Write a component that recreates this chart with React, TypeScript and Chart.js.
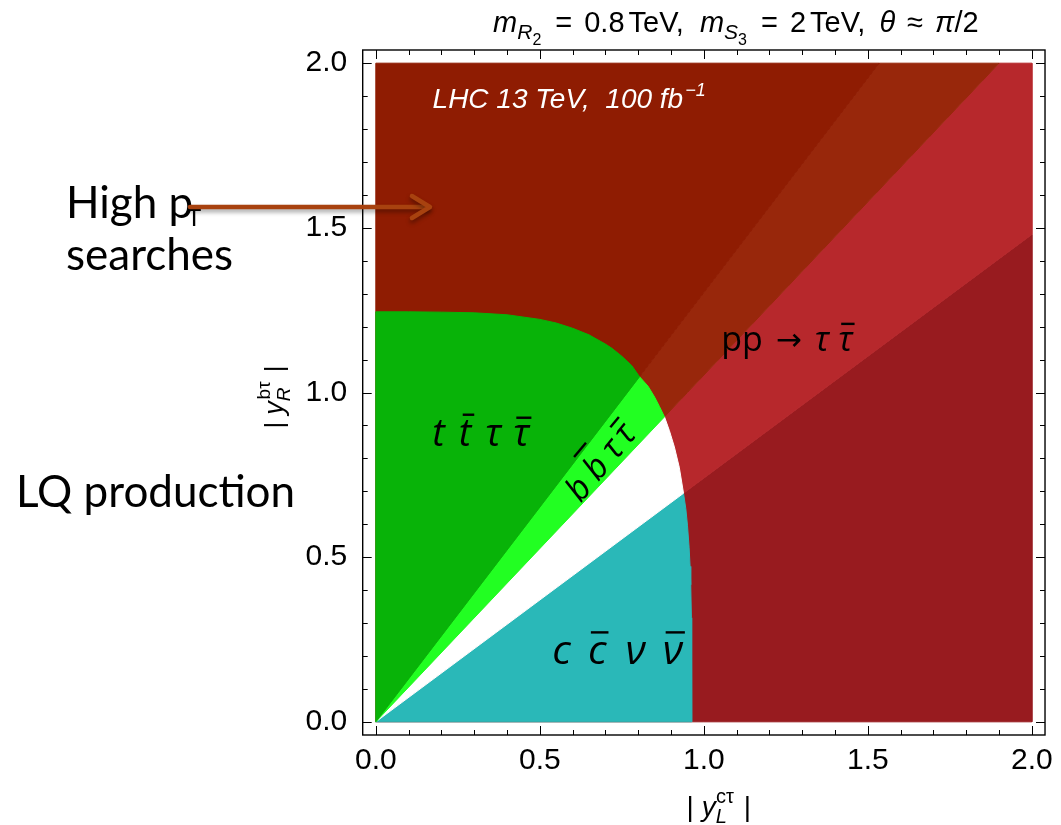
import React, { useEffect, useRef } from 'react';
import { Chart, registerables } from 'chart.js';

Chart.register(...registerables);

// ---------------- data ----------------
const axisMin = -0.04;
const axisMax = 2.04;
const majorTickValues = [0, 0.5, 1.0, 1.5, 2.0];
const majorTickLabels = ['0.0', '0.5', '1.0', '1.5', '2.0'];
const minorTickValues = [0.1, 0.2, 0.3, 0.4, 0.6, 0.7, 0.8, 0.9, 1.1, 1.2, 1.3, 1.4, 1.6, 1.7, 1.8, 1.9];

// LQ pair-production region, split into decay-channel wedges
const ttTauTauX = [0, 0, 0.1, 0.2, 0.3, 0.4, 0.5, 0.55, 0.6, 0.65, 0.7, 0.72, 0.75, 0.78, 0.804, 0];
const ttTauTauY = [0, 1.245, 1.245, 1.244, 1.242, 1.236, 1.222, 1.211, 1.195, 1.175, 1.147, 1.134, 1.11, 1.082, 1.048, 0];
const bbTauTauX = [0, 0.804, 0.83, 0.85, 0.865, 0.88, 0];
const bbTauTauY = [0, 1.048, 1.019, 0.986, 0.957, 0.926, 0];
const gapX = [0, 0.88, 0.895, 0.91, 0.925, 0.938, 0];
const gapY = [0, 0.926, 0.884, 0.835, 0.773, 0.694, 0];
const ccNuNuX = [0, 0.938, 0.945, 0.95, 0.955, 0.958, 0.96, 0.962, 0.9628, 0.963, 0.963, 0];
const ccNuNuY = [0, 0.694, 0.647, 0.597, 0.53, 0.472, 0.416, 0.316, 0.211, 0.1, 0, 0];

// High-pT (pp -> tau tau) excluded wedges
const highPtTopX = [0, 0, 1.535, 0];
const highPtTopY = [0, 2, 2, 0];
const highPtBandX = [0, 1.535, 1.9, 0];
const highPtBandY = [0, 2, 2, 0];
const highPtMidX = [0, 1.9, 2, 2, 0];
const highPtMidY = [0, 2, 2, 1.48, 0];
const highPtLowX = [0, 2, 2, 0];
const highPtLowY = [0, 1.48, 0, 0];

// label anchors (data coordinates)
const lhcLabelPos = [0.173, 1.864];
const ppLabelPos = [1.053, 1.127];
const ttLabelPos = [0.32, 0.839];
const bbLabelPos = [0.683, 0.79];
const ccLabelPos = [0.737, 0.175];

const COLORS = {
  top: '#8f1c02',
  band: '#98270b',
  mid: '#b7282c',
  low: '#981b1f',
  tt: '#08b308',
  bb: '#22ff22',
  gap: '#ffffff',
  cc: '#2ab8b8',
};

function poly(xs: number[], ys: number[]) {
  return xs.map((x, i) => ({ x, y: ys[i] }));
}

function region(label: string, xs: number[], ys: number[], color: string, order: number) {
  return {
    label,
    data: poly(xs, ys),
    showLine: true,
    fill: 'shape',
    backgroundColor: color,
    borderColor: color,
    borderWidth: 1,
    pointRadius: 0,
    pointHoverRadius: 0,
    tension: 0,
    order,
  };
}

type Seg = { t: string; f: string; dy?: number; bar?: number; barDx?: number; gap?: number };

function richWidth(ctx: CanvasRenderingContext2D, segs: Seg[]) {
  let w = 0;
  for (const s of segs) {
    ctx.font = s.f;
    w += ctx.measureText(s.t).width + (s.gap || 0);
  }
  return w;
}

function drawRich(ctx: CanvasRenderingContext2D, segs: Seg[], x: number, y: number, align: string) {
  const w = richWidth(ctx, segs);
  let cx = align === 'center' ? x - w / 2 : align === 'right' ? x - w : x;
  ctx.textAlign = 'left';
  ctx.textBaseline = 'alphabetic';
  for (const s of segs) {
    ctx.font = s.f;
    cx += s.gap || 0;
    const sw = ctx.measureText(s.t).width;
    ctx.fillText(s.t, cx, y + (s.dy || 0));
    if (s.bar) {
      ctx.fillRect(cx + (s.barDx || 0) + 1, y + (s.dy || 0) - s.bar, sw - 1, 2.4);
    }
    cx += sw;
  }
}

const LS = '"Liberation Sans", Arial, sans-serif';
const OS = '"Open Sans", "Noto Sans", sans-serif';
const DJ = '"DejaVu Sans", sans-serif';
const LATO = 'Lato, "Open Sans", sans-serif';

const framePlugin = {
  id: 'frameTicks',
  afterDraw(chart: any) {
    const ctx = chart.ctx as CanvasRenderingContext2D;
    const { left, right, top, bottom } = chart.chartArea;
    const xs = chart.scales.x;
    const ys = chart.scales.y;
    ctx.save();
    ctx.strokeStyle = '#000';
    ctx.lineWidth = 1;
    const drawTick = (v: number, len: number) => {
      const px = Math.round(xs.getPixelForValue(v)) + 0.5;
      const py = Math.round(ys.getPixelForValue(v)) + 0.5;
      ctx.beginPath();
      ctx.moveTo(px, bottom); ctx.lineTo(px, bottom - len);
      ctx.moveTo(px, top); ctx.lineTo(px, top + len);
      ctx.moveTo(left, py); ctx.lineTo(left + len, py);
      ctx.moveTo(right, py); ctx.lineTo(right - len, py);
      ctx.stroke();
    };
    majorTickValues.forEach((v) => drawTick(v, 9));
    minorTickValues.forEach((v) => drawTick(v, 5));
    ctx.lineWidth = 1.4;
    ctx.strokeRect(left, top, right - left, bottom - top);

    // Title
    ctx.fillStyle = '#000';
    drawRich(ctx, [
      { t: 'm', f: `italic 29px ${LS}` },
      { t: 'R', f: `italic 21px ${LS}`, dy: 7 },
      { t: '2', f: `16px ${LS}`, dy: 13 },
      { t: '=', f: `29px ${LS}`, gap: 14 },
      { t: '0.8', f: `29px ${LS}`, gap: 12 },
      { t: 'TeV,', f: `29px ${LS}`, gap: 4 },
      { t: 'm', f: `italic 29px ${LS}`, gap: 16 },
      { t: 'S', f: `italic 21px ${LS}`, dy: 7 },
      { t: '3', f: `16px ${LS}`, dy: 13 },
      { t: '=', f: `29px ${LS}`, gap: 14 },
      { t: '2', f: `29px ${LS}`, gap: 12 },
      { t: 'TeV,', f: `29px ${LS}`, gap: 4 },
      { t: 'θ', f: `italic 29px ${LS}`, gap: 14 },
      { t: '≈', f: `29px ${LS}`, gap: 12 },
      { t: 'π', f: `italic 29px ${LS}`, gap: 12 },
      { t: '/2', f: `29px ${LS}` },
    ], (left + right) / 2 + 32, 32, 'center');

    // x axis title
    drawRich(ctx, [
      { t: '|', f: `28px ${LS}` },
      { t: 'y', f: `italic 28px ${LS}`, gap: 8 },
      { t: 'L', f: `italic 20px ${LS}`, dy: 7 },
      { t: 'cτ', f: `20px ${LS}`, dy: -13, gap: -11 },
      { t: '|', f: `28px ${LS}`, gap: 10 },
    ], (left + right) / 2 + 15, 816, 'center');

    // y axis title (rotated)
    ctx.save();
    ctx.translate(283, 397);
    ctx.rotate(-Math.PI / 2);
    drawRich(ctx, [
      { t: '|', f: `26px ${LS}` },
      { t: 'y', f: `italic 27px ${LS}`, gap: 7 },
      { t: 'R', f: `italic 19px ${LS}`, dy: 7 },
      { t: 'bτ', f: `19px ${LS}`, dy: -13, gap: -12 },
      { t: '|', f: `26px ${LS}`, gap: 9 },
    ], 0, 0, 'center');
    ctx.restore();

    // Outside annotations
    ctx.fillStyle = '#000';
    ctx.font = `44px ${LATO}`;
    ctx.textAlign = 'left';
    ctx.textBaseline = 'alphabetic';
    ctx.fillText('High p', 66, 218);
    ctx.font = `24px ${LATO}`;
    ctx.fillText('T', 187, 226);
    ctx.font = `44px ${LATO}`;
    ctx.fillText('searches', 66, 270);
    ctx.fillText('LQ production', 16, 507);

    // arrow
    const ay = 207;
    const ax0 = 190;
    const ax1 = xs.getPixelForValue(0.165);
    ctx.save();
    ctx.shadowColor = 'rgba(0,0,0,0.35)';
    ctx.shadowBlur = 4;
    ctx.shadowOffsetY = 3;
    ctx.strokeStyle = '#a8420f';
    ctx.lineWidth = 4.5;
    ctx.lineCap = 'round';
    ctx.lineJoin = 'round';
    ctx.beginPath();
    ctx.moveTo(ax0, ay);
    ctx.lineTo(ax1 - 2, ay);
    ctx.stroke();
    ctx.beginPath();
    ctx.moveTo(ax1 - 18, ay - 11);
    ctx.lineTo(ax1, ay);
    ctx.lineTo(ax1 - 18, ay + 11);
    ctx.stroke();
    ctx.restore();
    ctx.restore();
  },
};

const labelsPlugin = {
  id: 'regionLabels',
  afterDatasetsDraw(chart: any) {
    const ctx = chart.ctx as CanvasRenderingContext2D;
    const xs = chart.scales.x;
    const ys = chart.scales.y;
    const P = (p: number[]) => [xs.getPixelForValue(p[0]), ys.getPixelForValue(p[1])];
    ctx.save();
    // LHC label
    ctx.fillStyle = '#ffffff';
    const [lx, ly] = P(lhcLabelPos);
    drawRich(ctx, [
      { t: 'LHC 13 TeV,  100 fb', f: `italic 28px ${LS}` },
      { t: '−1', f: `italic 18px ${LS}`, dy: -12, gap: 2 },
    ], lx, ly, 'left');

    ctx.fillStyle = '#000';
    const [px, py] = P(ppLabelPos);
    drawRich(ctx, [
      { t: 'pp', f: `34px ${OS}` },
      { t: '→', f: `31px ${DJ}`, gap: 13, dy: -1 },
      { t: 'τ', f: `italic 34px ${OS}`, gap: 13 },
      { t: 'τ', f: `italic 34px ${OS}`, gap: 9, bar: 28, barDx: 2 },
    ], px, py, 'left');

    const [tx, ty] = P(ttLabelPos);
    drawRich(ctx, [
      { t: 't', f: `italic 38px ${OS}` },
      { t: 't', f: `italic 38px ${OS}`, gap: 14, bar: 32, barDx: 3 },
      { t: 'τ', f: `italic 38px ${OS}`, gap: 14 },
      { t: 'τ', f: `italic 38px ${OS}`, gap: 12, bar: 29, barDx: 2 },
    ], tx, ty, 'center');

    const [cx, cy] = P(ccLabelPos);
    drawRich(ctx, [
      { t: 'c', f: `italic 41px ${OS}` },
      { t: 'c', f: `italic 41px ${OS}`, gap: 17, bar: 33, barDx: 2 },
      { t: 'ν', f: `italic 41px ${OS}`, gap: 19 },
      { t: 'ν', f: `italic 41px ${OS}`, gap: 17, bar: 33, barDx: 2 },
    ], cx, cy, 'center');

    const [bx, by] = P(bbLabelPos);
    ctx.save();
    ctx.translate(bx, by);
    ctx.rotate(-0.88);
    drawRich(ctx, [
      { t: 'b', f: `italic 34px ${OS}` },
      { t: 'b', f: `italic 34px ${OS}`, gap: 8, bar: 36, barDx: 3 },
      { t: 'τ', f: `italic 34px ${OS}`, gap: 8 },
      { t: 'τ', f: `italic 34px ${OS}`, gap: 5, bar: 27, barDx: 2 },
    ], 0, 12, 'center');
    ctx.restore();
    ctx.restore();
  },
};

export default function App() {
  const ref = useRef<HTMLCanvasElement | null>(null);
  useEffect(() => {
    if (!ref.current) return;
    const datasets: any[] = [
      region('high-pT top', highPtTopX, highPtTopY, COLORS.top, 5),
      region('high-pT band', highPtBandX, highPtBandY, COLORS.band, 5),
      region('high-pT mid', highPtMidX, highPtMidY, COLORS.mid, 5),
      region('high-pT low', highPtLowX, highPtLowY, COLORS.low, 5),
      region('tt tau tau', ttTauTauX, ttTauTauY, COLORS.tt, 1),
      region('bb tau tau', bbTauTauX, bbTauTauY, COLORS.bb, 1),
      region('gap', gapX, gapY, COLORS.gap, 1),
      region('cc nu nu', ccNuNuX, ccNuNuY, COLORS.cc, 1),
    ];
    const chart = new Chart(ref.current, {
      type: 'scatter',
      data: { datasets },
      options: {
        animation: false,
        responsive: false,
        events: [],
        layout: { padding: { left: 0, right: 13.3, top: 50, bottom: 40 } },
        plugins: {
          legend: { display: false },
          tooltip: { enabled: false },
          title: { display: false },
        },
        scales: {
          x: {
            type: 'linear',
            min: axisMin,
            max: axisMax,
            afterBuildTicks: (s: any) => {
              s.ticks = majorTickValues.map((v) => ({ value: v }));
            },
            afterFit: (s: any) => {
              s.height = 50;
            },
            grid: { display: false, drawTicks: false },
            border: { display: false },
            ticks: {
              autoSkip: false,
              maxRotation: 0,
              padding: 8,
              color: '#000',
              font: { family: '"Liberation Sans", Arial, sans-serif', size: 30 },
              callback: (_v: any, i: number) => majorTickLabels[i],
            },
          },
          y: {
            type: 'linear',
            min: axisMin,
            max: axisMax,
            afterBuildTicks: (s: any) => {
              s.ticks = majorTickValues.map((v) => ({ value: v }));
            },
            afterFit: (s: any) => {
              s.width = 362.7;
            },
            grid: { display: false, drawTicks: false },
            border: { display: false },
            ticks: {
              autoSkip: false,
              padding: 15.5,
              color: '#000',
              font: { family: '"Liberation Sans", Arial, sans-serif', size: 30 },
              callback: (_v: any, i: number) => majorTickLabels[i],
            },
          },
        },
      } as any,
      plugins: [labelsPlugin, framePlugin],
    });
    return () => chart.destroy();
  }, []);
  return (
    <div style={{ position: 'absolute', left: 0, top: 0, width: 1061, height: 825, background: '#fff' }}>
      <canvas ref={ref} width={1061} height={825} />
    </div>
  );
}
